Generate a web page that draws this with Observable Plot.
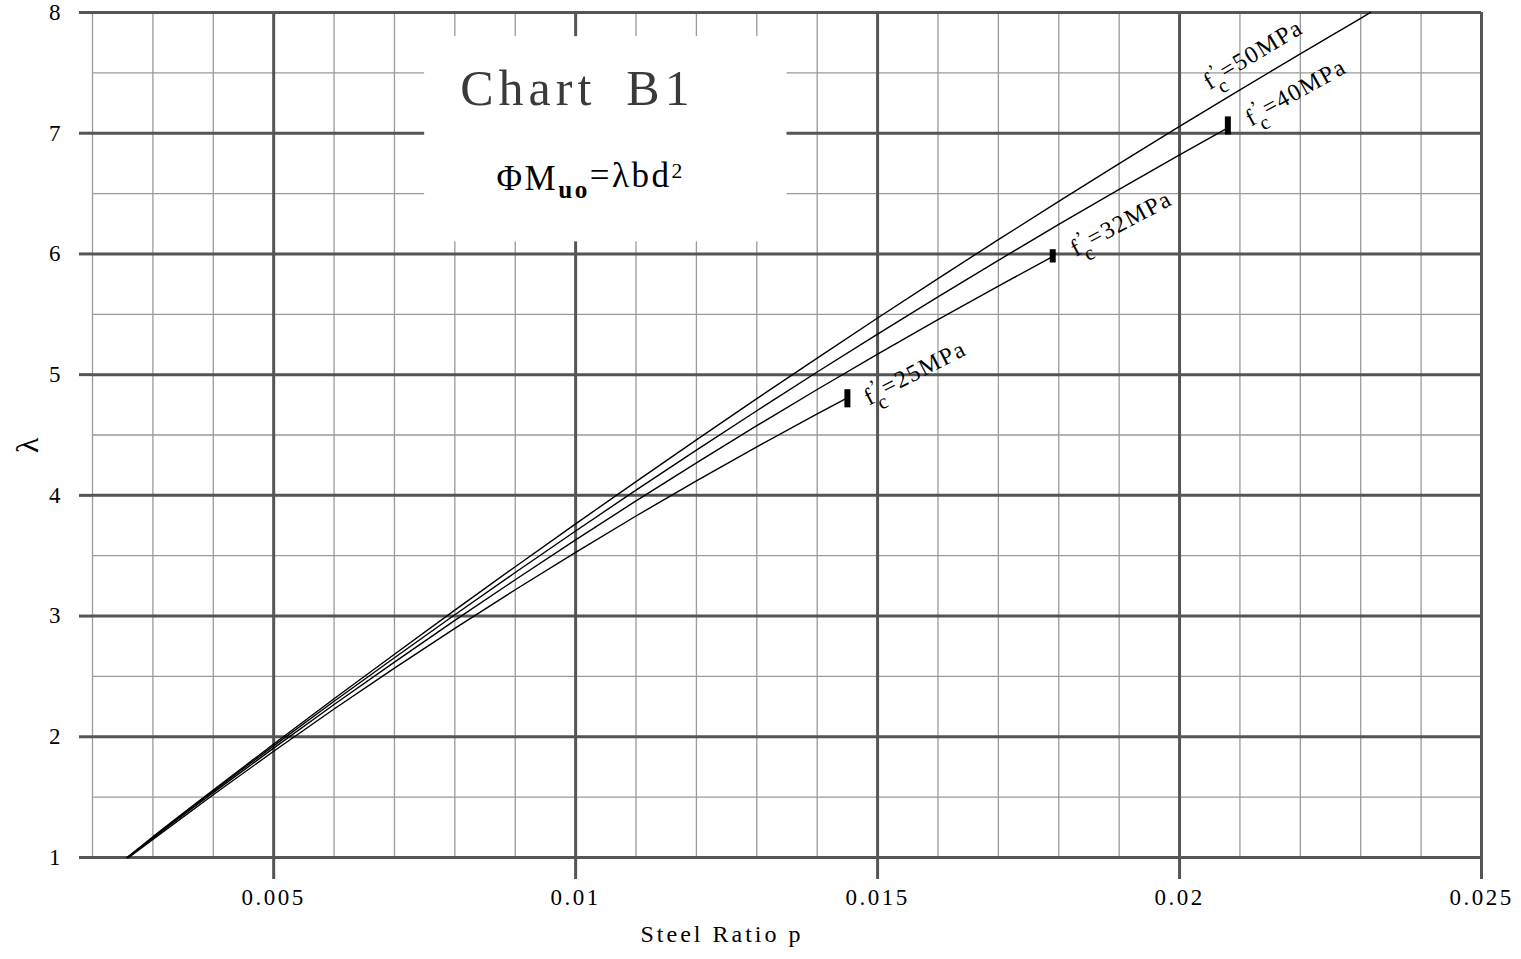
<!DOCTYPE html>
<html>
<head>
<meta charset="utf-8">
<script src="https://cdn.jsdelivr.net/npm/d3@7"></script>
<script src="https://cdn.jsdelivr.net/npm/@observablehq/plot@0.6"></script>
<style>
  html, body { margin: 0; padding: 0; background: #fff; }
  svg { display: block; }
</style>
</head>
<body>
<script>
// ---- data ----
const p25  = [0.0026,0.003,0.004,0.005,0.006,0.007,0.008,0.009,0.010,0.011,0.012,0.013,0.014,0.0145];
const lam25= [1.000,1.150,1.520,1.880,2.230,2.569,2.898,3.218,3.528,3.829,4.120,4.402,4.675,4.808];

const p32  = [0.00259,0.003,0.004,0.005,0.006,0.007,0.008,0.009,0.010,0.011,0.012,0.013,0.014,0.015,0.016,0.017,0.0179];
const lam32= [1.000,1.160,1.537,1.906,2.267,2.619,2.964,3.301,3.631,3.954,4.269,4.577,4.877,5.170,5.456,5.734,5.978];

const p40  = [0.00258,0.003,0.004,0.005,0.006,0.007,0.008,0.009,0.010,0.011,0.012,0.013,0.014,0.015,0.016,0.017,0.018,0.019,0.020,0.0208];
const lam40= [1.000,1.166,1.550,1.925,2.294,2.655,3.011,3.361,3.705,4.043,4.375,4.701,5.022,5.336,5.645,5.947,6.244,6.535,6.820,7.044];

const p50  = [0.00257,0.003,0.004,0.005,0.006,0.007,0.008,0.009,0.010,0.011,0.012,0.013,0.014,0.015,0.016,0.017,0.018,0.019,0.020,0.021,0.022,0.023,0.02316];
const lam50= [1.000,1.172,1.559,1.940,2.315,2.684,3.049,3.409,3.764,4.114,4.460,4.801,5.137,5.469,5.796,6.118,6.435,6.748,7.056,7.359,7.658,7.952,8.000];

const seriesNames = ["25","32","40","50"];

// end-of-range markers (fc = 25, 32, 40)
const markerP    = [0.0145, 0.0179, 0.0208];
const markerLam  = [4.80, 5.98, 7.06];
const markerHalf = [0.075, 0.055, 0.075];

// curve labels
const labelMPa = ["25","32","40","50"];
const labelP   = [0.0148, 0.01822, 0.02112, 0.02043];
const labelLam = [4.80, 6.03, 7.11, 7.41];
const labelRot = [-27, -28, -29, -31];

// ticks / grid
const xTicks  = [0.005,0.01,0.015,0.02,0.025];
const xTickLabels = ["0.005","0.01","0.015","0.02","0.025"];
const xMinor  = [0.002,0.003,0.004,0.006,0.007,0.008,0.009,0.011,0.012,0.013,0.014,0.016,0.017,0.018,0.019,0.021,0.022,0.023,0.024];
const yTicks  = [1,2,3,4,5,6,7,8];
const yTickLabels = ["1","2","3","4","5","6","7","8"];
const yMinor  = [1.5,2.5,3.5,4.5,5.5,6.5,7.5];

// title box
const boxX = [0.0075, 0.0135];
const boxY = [6.1, 7.8];
const titleText = ["Chart\u2002B1"];
const titleP = [0.01003], titleLam = [7.37];
const formulaP = [0.01025], formulaLam = [6.62];

// ---- build tables ----
const curves = [];
[[p25,lam25],[p32,lam32],[p40,lam40],[p50,lam50]].forEach(([ps, ls], i) => {
  ps.forEach((p, j) => curves.push({series: seriesNames[i], p, lam: ls[j]}));
});
const markers = markerP.map((p, i) => ({p, y1: markerLam[i] - markerHalf[i], y2: markerLam[i] + markerHalf[i]}));
const labels = labelMPa.map((m, i) => ({m, p: labelP[i], lam: labelLam[i], rot: labelRot[i]}));

const MAJOR = "#555", MINOR = "#9a9a9a";
const FONT = "Liberation Serif";

const svg = Plot.plot({
  width: 1521, height: 959,
  marginLeft: 92, marginRight: 40, marginTop: 12, marginBottom: 102,
  x: {domain: [0.002, 0.025]},
  y: {domain: [1, 8]},
  style: {fontFamily: FONT, fontSize: "22px", background: "white", color: "black"},
  marks: [
    Plot.ruleX(xMinor, {stroke: MINOR, strokeWidth: 1.3}),
    Plot.ruleY(yMinor, {stroke: MINOR, strokeWidth: 1.3}),
    Plot.ruleX(xTicks, {stroke: MAJOR, strokeWidth: 3}),
    Plot.ruleY(yTicks, {stroke: MAJOR, strokeWidth: 3}),
    Plot.rect([0], {x1: () => boxX[0], x2: () => boxX[1], y1: () => boxY[0], y2: () => boxY[1], fill: "white"}),
    Plot.axisX({ticks: xTicks, tickFormat: d => xTickLabels[xTicks.indexOf(d)], tickSize: 22, tickPadding: 9, stroke: MAJOR, strokeWidth: 3, fill: "black", fontSize: 23, label: null}),
    Plot.axisY({ticks: yTicks, tickFormat: d => yTickLabels[yTicks.indexOf(d)], tickSize: 13, tickPadding: 19, stroke: MAJOR, strokeWidth: 3, fill: "black", fontSize: 23, label: null}),
    Plot.line(curves, {x: "p", y: "lam", z: "series", stroke: "black", strokeWidth: 1.4, curve: "monotone-x"}),
    Plot.ruleX(markers, {x: "p", y1: "y1", y2: "y2", stroke: "black", strokeWidth: 6}),
    Plot.text(labels, {x: "p", y: "lam", text: "m", rotate: "rot", textAnchor: "start", fontSize: 24, fill: "black", ariaDescription: "curve-labels"}),
    Plot.text(titleText, {x: () => titleP[0], y: () => titleLam[0], text: d => d, fontSize: 50, fill: "#3a3a3a", ariaDescription: "title"}),
    Plot.text(["formula"], {x: () => formulaP[0], y: () => formulaLam[0], text: d => d, fontSize: 35, fill: "black", ariaDescription: "formula"}),
    Plot.text(["Steel Ratio p"], {frameAnchor: "bottom", dx: -65, dy: 84, fontSize: 24, fill: "black", text: d => d, ariaDescription: "xlabel"}),
    Plot.text(["λ"], {frameAnchor: "left", dx: -65, dy: 18, rotate: -90, fontSize: 32, fill: "black", text: d => d, ariaDescription: "ylabel"})
  ]
});
document.body.appendChild(svg);

// ---- typographic post-processing (subscripts, spacing) ----
const s = d3.select(svg);
s.selectAll('g[aria-label="x-axis tick label"] text').style("letter-spacing", "2.5px");
s.selectAll('g[aria-description="title"] text').style("letter-spacing", "5px");
s.selectAll('g[aria-description="xlabel"] text').style("letter-spacing", "3px");
s.selectAll('g[aria-description="curve-labels"] text').each(function() {
  const t = d3.select(this);
  const m = t.text();
  t.text(null).style("letter-spacing", "1.5px");
  t.append("tspan").text("f");
  t.append("tspan").attr("dy", "-0.45em").attr("font-size", "0.8em").text("\u2019");
  t.append("tspan").attr("dx", "-0.4em").attr("dy", "0.9em").attr("font-size", "0.85em").text("c");
  t.append("tspan").attr("dy", "-0.45em").text("=" + m + "MPa");
});
s.selectAll('g[aria-description="formula"] text').each(function() {
  const t = d3.select(this);
  t.text(null).style("letter-spacing", "2.5px");
  t.append("tspan").text("\u03A6M");
  t.append("tspan").attr("dy", "0.3em").attr("font-size", "0.72em").attr("font-weight", "bold").text("uo");
  t.append("tspan").attr("dy", "-0.3em").text("=\u03BBbd");
  t.append("tspan").attr("dy", "-0.45em").attr("font-size", "0.62em").text("2");
});
</script>
</body>
</html>
